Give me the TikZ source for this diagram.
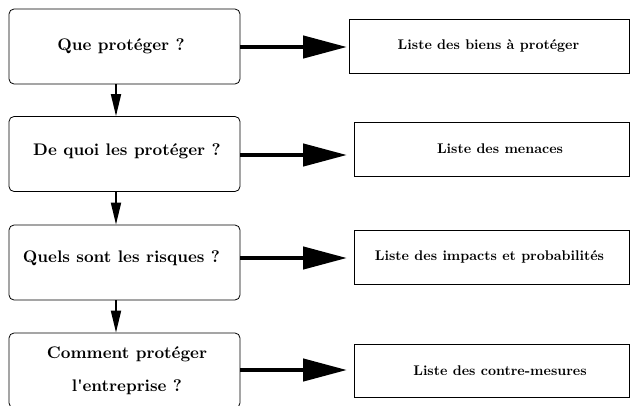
\documentclass[tikz,border=0pt]{standalone}
\usepackage{fontspec}
\newfontfamily\tenbold{lmroman10-bold.otf}
\usetikzlibrary{arrows.meta}
\begin{document}
\begin{tikzpicture}[x=1pt,y=-1pt,
  qbox/.style={draw, line width=0.8pt, rounded corners=5pt, minimum width=231pt, minimum height=75pt, inner sep=0pt},
  lbox/.style={draw, line width=0.8pt, inner sep=0pt},
  qtext/.style={font=\tenbold\fontsize{16.8}{33}\selectfont, align=center},
  ltext/.style={font=\tenbold\fontsize{14}{17}\selectfont},
  bigarrow/.style={line width=4.5pt, -{Triangle[length=44pt,width=22pt]}},
  downarrow/.style={line width=1.8pt, -{Triangle[length=22pt,width=10pt]}}
]
\useasboundingbox (0,0) rectangle (630,405);
\clip (0,0) rectangle (630,405);
% left boxes
\node[qbox] (q1) at (124.5,46.5) {};
\node[qbox] (q2) at (124.5,154) {};
\node[qbox] (q3) at (124.5,262.5) {};
\node[qbox] (q4) at (124.5,370.5) {};
\node[qtext] (t1) at (121,46.5) {Que protéger ?};
\node[qtext] (t2) at (127,151) {De quoi les protéger ?};
\node[qtext] (t3) at (121.5,258) {Quels sont les risques ?};
\node[qtext] (t4) at (127,370.5) {Comment protéger\\l'entreprise ?};
% right boxes
\node[lbox, minimum width=280pt, minimum height=54pt] (r1) at (489,46) {};
\node[lbox, minimum width=275pt, minimum height=54pt] (r2) at (491.5,149) {};
\node[lbox, minimum width=275pt, minimum height=54pt] (r3) at (491.5,257) {};
\node[lbox, minimum width=275pt, minimum height=53pt] (r4) at (491.5,370.5) {};
\node[ltext] (u1) at (488.5,46) {Liste des biens à protéger};
\node[ltext] (u2) at (500,149) {Liste des menaces};
\node[ltext] (u3) at (489.5,257) {Liste des impacts et probabilités};
\node[ltext] (u4) at (500,370.5) {Liste des contre-mesures};
% horizontal arrows
\coordinate (e1) at (347,47);
\coordinate (e2) at (347,155);
\coordinate (e3) at (347,258);
\coordinate (e4) at (347,370);
\draw[bigarrow] (q1.east |- e1) -- (e1);
\draw[bigarrow] (q2.east |- e2) -- (e2);
\draw[bigarrow] (q3.east |- e3) -- (e3);
\draw[bigarrow] (q4.east |- e4) -- (e4);
% vertical arrows
\draw[downarrow] ([xshift=-8.5pt]q1.south) -- ([xshift=-8.5pt]q2.north);
\draw[downarrow] ([xshift=-8.5pt]q2.south) -- ([xshift=-8.5pt]q3.north);
\draw[downarrow] ([xshift=-8.5pt]q3.south) -- ([xshift=-8.5pt]q4.north);
\end{tikzpicture}
\end{document}
